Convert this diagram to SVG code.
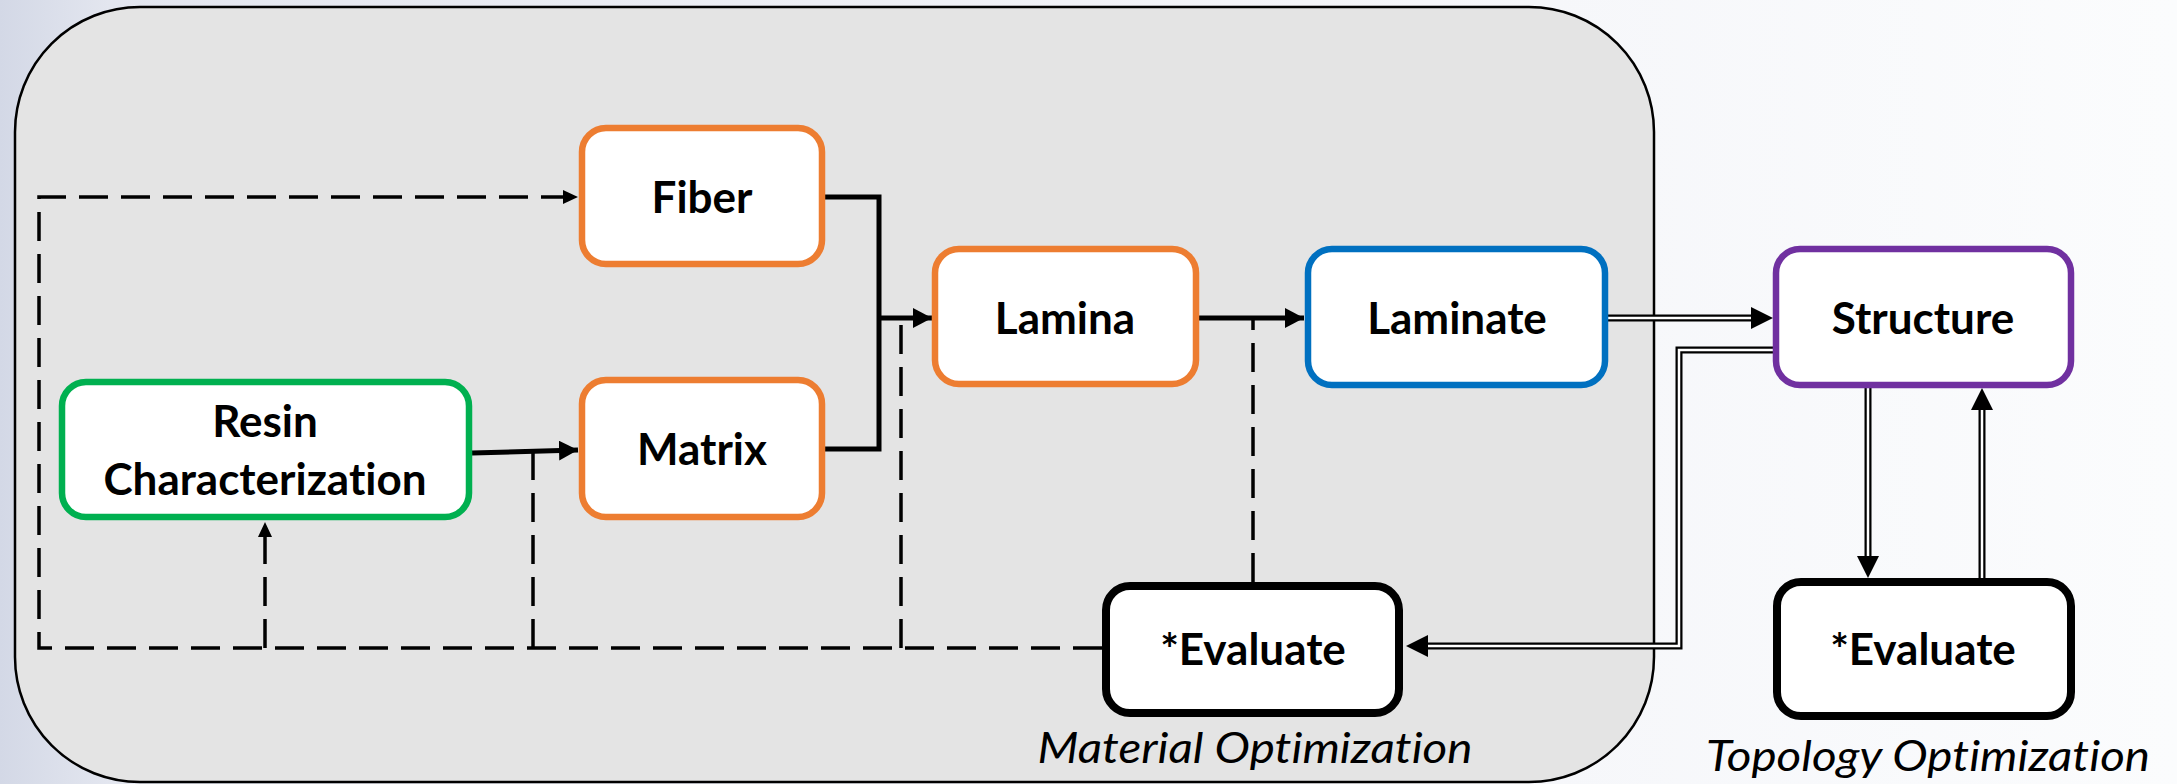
<svg xmlns="http://www.w3.org/2000/svg" width="2177" height="784" viewBox="0 0 2177 784">
  <defs>
    <linearGradient id="bg" x1="0" y1="0" x2="1" y2="0">
      <stop offset="0" stop-color="#d3d8e6"/>
      <stop offset="0.05" stop-color="#e3e6ef"/>
      <stop offset="0.6" stop-color="#f4f5f9"/>
      <stop offset="1" stop-color="#fbfcfd"/>
    </linearGradient>
    <marker id="arrS" markerUnits="userSpaceOnUse" markerWidth="16" markerHeight="14" refX="15" refY="7" orient="auto">
      <path d="M0,0 L15,7 L0,14 z" fill="#000"/>
    </marker>
    <marker id="arrM" markerUnits="userSpaceOnUse" markerWidth="20" markerHeight="20" refX="19" refY="10" orient="auto">
      <path d="M0,0 L19,10 L0,20 z" fill="#000"/>
    </marker>
    <marker id="arrL" markerUnits="userSpaceOnUse" markerWidth="24" markerHeight="24" refX="0" refY="11" orient="auto">
      <path d="M0,0 L22,11 L0,22 z" fill="#000"/>
    </marker>
  </defs>
  <style>
    .box { fill: #ffffff; stroke-width: 6.5; }
    .orange { stroke: #ed7d31; }
    .green { stroke: #00b050; }
    .blue { stroke: #0070c0; }
    .purple { stroke: #7030a0; }
    .black { stroke: #000000; stroke-width: 8; }
    .lbl { font-family: Lato, "Open Sans", "Liberation Sans", sans-serif; font-weight: bold; font-size: 44px; fill: #000; text-anchor: middle; font-variant-ligatures: none; }
    .cap { font-family: Lato, "Open Sans", "Liberation Sans", sans-serif; font-style: italic; font-size: 43px; fill: #000; text-anchor: middle; font-variant-ligatures: none; }
    .dash { fill: none; stroke: #000; stroke-width: 3.5; stroke-dasharray: 29 13; }
    .solid { fill: none; stroke: #000; stroke-width: 5; }
    .dblo { fill: none; stroke: #000; stroke-width: 7; }
    .dbli { fill: none; stroke: #ffffff; stroke-width: 2.5; }
  </style>

  <rect x="0" y="0" width="2177" height="784" fill="url(#bg)"/>
  <g id="material-optimization">
    <rect x="15" y="7" width="1639" height="775" rx="125" ry="125" fill="#e4e4e4" stroke="#000" stroke-width="2.5"/>
    <text class="cap" x="1255" y="763" textLength="435" lengthAdjust="spacingAndGlyphs">Material Optimization</text>
  </g>
  <g id="topology-optimization">
    <text class="cap" x="1928" y="771" textLength="444" lengthAdjust="spacingAndGlyphs">Topology Optimization</text>
  </g>

  <g id="connectors">
    <path class="dash" d="M1102,648 H39 V197 H578" marker-end="url(#arrS)"/>
    <path class="dash" d="M265,648 V522" marker-end="url(#arrS)"/>
    <path class="dash" d="M533,648 V453"/>
    <path class="dash" d="M901,648 V320"/>
    <path class="dash" d="M1253,582 V320"/>

    <path class="solid" d="M472,453 L578,450" marker-end="url(#arrM)"/>
    <path class="solid" d="M825,197 H879 V449 H825"/>
    <path class="solid" d="M879,318 H932" marker-end="url(#arrM)"/>
    <path class="solid" d="M1199,318 H1304" marker-end="url(#arrM)"/>

    <path class="dblo" d="M1608,318 H1751" marker-end="url(#arrL)"/>
    <path class="dbli" d="M1608,318 H1751"/>
    <path class="dblo" d="M1773,350 H1679 V646 H1428" marker-end="url(#arrL)"/>
    <path class="dbli" d="M1773,350 H1679 V646 H1428"/>
    <path class="dblo" d="M1868,388 V556" marker-end="url(#arrL)"/>
    <path class="dbli" d="M1868,388 V556"/>
    <path class="dblo" d="M1982,578 V410" marker-end="url(#arrL)"/>
    <path class="dbli" d="M1982,578 V410"/>
  </g>

  <g id="resin">
    <rect class="box green" x="62" y="382" width="407" height="135" rx="24"/>
    <text class="lbl" x="265" y="437">Resin</text>
    <text class="lbl" x="265" y="495">Characterization</text>
  </g>
  <g id="fiber">
    <rect class="box orange" x="582" y="128" width="240" height="136" rx="24"/>
    <text class="lbl" x="702" y="213">Fiber</text>
  </g>
  <g id="matrix">
    <rect class="box orange" x="582" y="380" width="240" height="137" rx="24"/>
    <text class="lbl" x="702" y="465">Matrix</text>
  </g>
  <g id="lamina">
    <rect class="box orange" x="935" y="249" width="261" height="135" rx="24"/>
    <text class="lbl" x="1065" y="334">Lamina</text>
  </g>
  <g id="laminate">
    <rect class="box blue" x="1308" y="249" width="297" height="136" rx="24"/>
    <text class="lbl" x="1457" y="334">Laminate</text>
  </g>
  <g id="structure">
    <rect class="box purple" x="1776" y="249" width="295" height="136" rx="24"/>
    <text class="lbl" x="1923" y="334">Structure</text>
  </g>
  <g id="evaluate-material">
    <rect class="box black" x="1106" y="586" width="293" height="127" rx="24"/>
    <text class="lbl" x="1253" y="665">*Evaluate</text>
  </g>
  <g id="evaluate-topology">
    <rect class="box black" x="1777" y="582" width="294" height="134" rx="24"/>
    <text class="lbl" x="1923" y="665">*Evaluate</text>
  </g>
</svg>
